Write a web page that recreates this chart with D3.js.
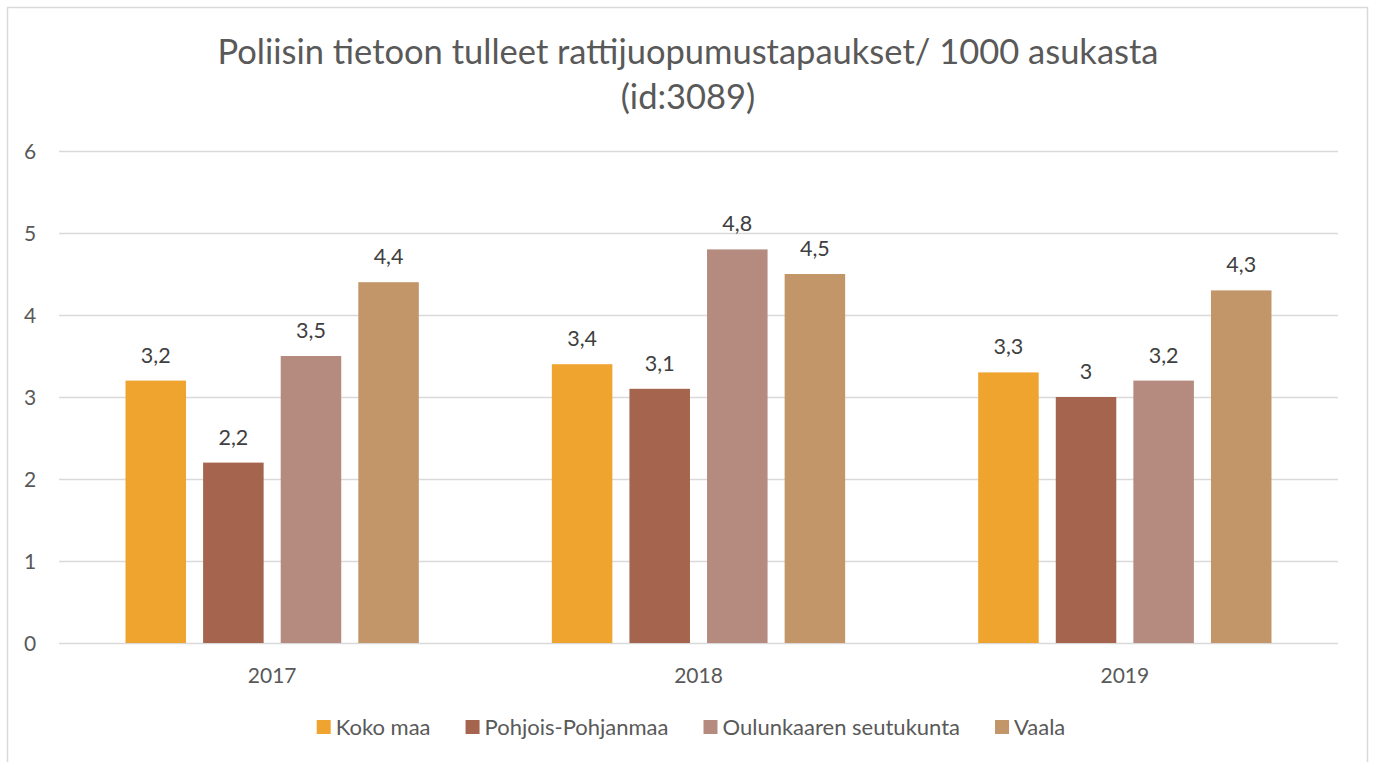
<!DOCTYPE html>
<html>
<head>
<meta charset="utf-8">
<script src="https://cdn.jsdelivr.net/npm/d3@7"></script>
<style>
  body { margin: 0; background: #fff; }
  text { font-family: Lato, "Open Sans", sans-serif; }
</style>
</head>
<body>
<div id="chart"></div>
<script>
var width = 1375;
var height = 762;

var years = ["2017", "2018", "2019"];
var seriesNames = ["Koko maa", "Pohjois-Pohjanmaa", "Oulunkaaren seutukunta", "Vaala"];
var kokoMaa = [3.2, 3.4, 3.3];
var pohjoisPohjanmaa = [2.2, 3.1, 3.0];
var oulunkaari = [3.5, 4.8, 3.2];
var vaala = [4.4, 4.5, 4.3];
var colors = ["#F0A430", "#A5644E", "#B58B80", "#C39669"];
var yTicks = [0, 1, 2, 3, 4, 5, 6];

var seriesValues = [kokoMaa, pohjoisPohjanmaa, oulunkaari, vaala];

var svg = d3.select("#chart").append("svg")
  .attr("width", width)
  .attr("height", height);

// chart border
svg.append("rect")
  .attr("x", 7.5).attr("y", 7.5)
  .attr("width", 1360).attr("height", 770)
  .attr("fill", "none")
  .attr("stroke", "#d9d9d9")
  .attr("stroke-width", 1.5);

// title
svg.append("text")
  .attr("x", 688).attr("y", 64)
  .attr("text-anchor", "middle")
  .attr("font-size", 34.5)
  .attr("fill", "#595959")
  .text("Poliisin tietoon tulleet rattijuopumustapaukset/ 1000 asukasta");
svg.append("text")
  .attr("x", 688).attr("y", 109)
  .attr("text-anchor", "middle")
  .attr("font-size", 34.5)
  .attr("fill", "#595959")
  .text("(id:3089)");

var x0 = d3.scaleBand()
  .domain(years)
  .range([59, 1338])
  .paddingInner(0.312)
  .paddingOuter(0.156);

var x1 = d3.scaleBand()
  .domain(seriesNames)
  .range([0, x0.bandwidth()])
  .paddingInner(0.22);

var y = d3.scaleLinear()
  .domain([0, 6])
  .range([643, 151]);

// gridlines
svg.append("g")
  .selectAll("line")
  .data(yTicks)
  .enter()
  .append("line")
  .attr("x1", 59).attr("x2", 1338)
  .attr("y1", function (d) { return y(d) + 0.5; })
  .attr("y2", function (d) { return y(d) + 0.5; })
  .attr("stroke", "#d9d9d9")
  .attr("stroke-width", 1.5);

// y labels
svg.append("g")
  .selectAll("text")
  .data(yTicks)
  .enter()
  .append("text")
  .attr("x", 30)
  .attr("y", function (d) { return y(d) + 7.5; })
  .attr("text-anchor", "middle")
  .attr("font-size", 21)
  .attr("fill", "#595959")
  .text(function (d) { return d; });

// x labels
svg.append("g")
  .selectAll("text")
  .data(years)
  .enter()
  .append("text")
  .attr("x", function (d) { return x0(d) + x0.bandwidth() / 2; })
  .attr("y", 683)
  .attr("text-anchor", "middle")
  .attr("font-size", 21)
  .attr("fill", "#595959")
  .text(function (d) { return d; });

var fmt = function (v) { return String(v).replace(".", ","); };

var groups = svg.append("g")
  .selectAll("g")
  .data(years)
  .enter()
  .append("g")
  .attr("transform", function (d) { return "translate(" + x0(d) + ",0)"; });

groups.selectAll("rect")
  .data(function (d, i) {
    return seriesNames.map(function (s, j) { return { s: s, j: j, v: seriesValues[j][i] }; });
  })
  .enter()
  .append("rect")
  .attr("x", function (d) { return x1(d.s); })
  .attr("y", function (d) { return y(d.v); })
  .attr("width", x1.bandwidth())
  .attr("height", function (d) { return y(0) - y(d.v); })
  .attr("fill", function (d) { return colors[d.j]; });

groups.selectAll("text")
  .data(function (d, i) {
    return seriesNames.map(function (s, j) { return { s: s, j: j, v: seriesValues[j][i] }; });
  })
  .enter()
  .append("text")
  .attr("x", function (d) { return x1(d.s) + x1.bandwidth() / 2; })
  .attr("y", function (d) { return y(d.v) - 18; })
  .attr("text-anchor", "middle")
  .attr("font-size", 21.5)
  .attr("fill", "#404040")
  .text(function (d) { return fmt(d.v); });

// legend
var legend = svg.append("g");
var items = legend.selectAll("g")
  .data(seriesNames)
  .enter()
  .append("g");
items.append("rect")
  .attr("width", 14).attr("height", 14)
  .attr("y", -15)
  .attr("fill", function (d, i) { return colors[i]; });
items.append("text")
  .attr("x", 19)
  .attr("y", 0)
  .attr("font-size", 22)
  .attr("fill", "#595959")
  .text(function (d) { return d; });

var pos = 0;
var offsets = [];
items.each(function () {
  offsets.push(pos);
  var w = d3.select(this).select("text").node().getComputedTextLength();
  pos += 19 + w + 35;
});
var total = pos - 35;
var startX = 691 - total / 2;
items.attr("transform", function (d, i) { return "translate(" + (startX + offsets[i]) + ",735)"; });
</script>
</body>
</html>
